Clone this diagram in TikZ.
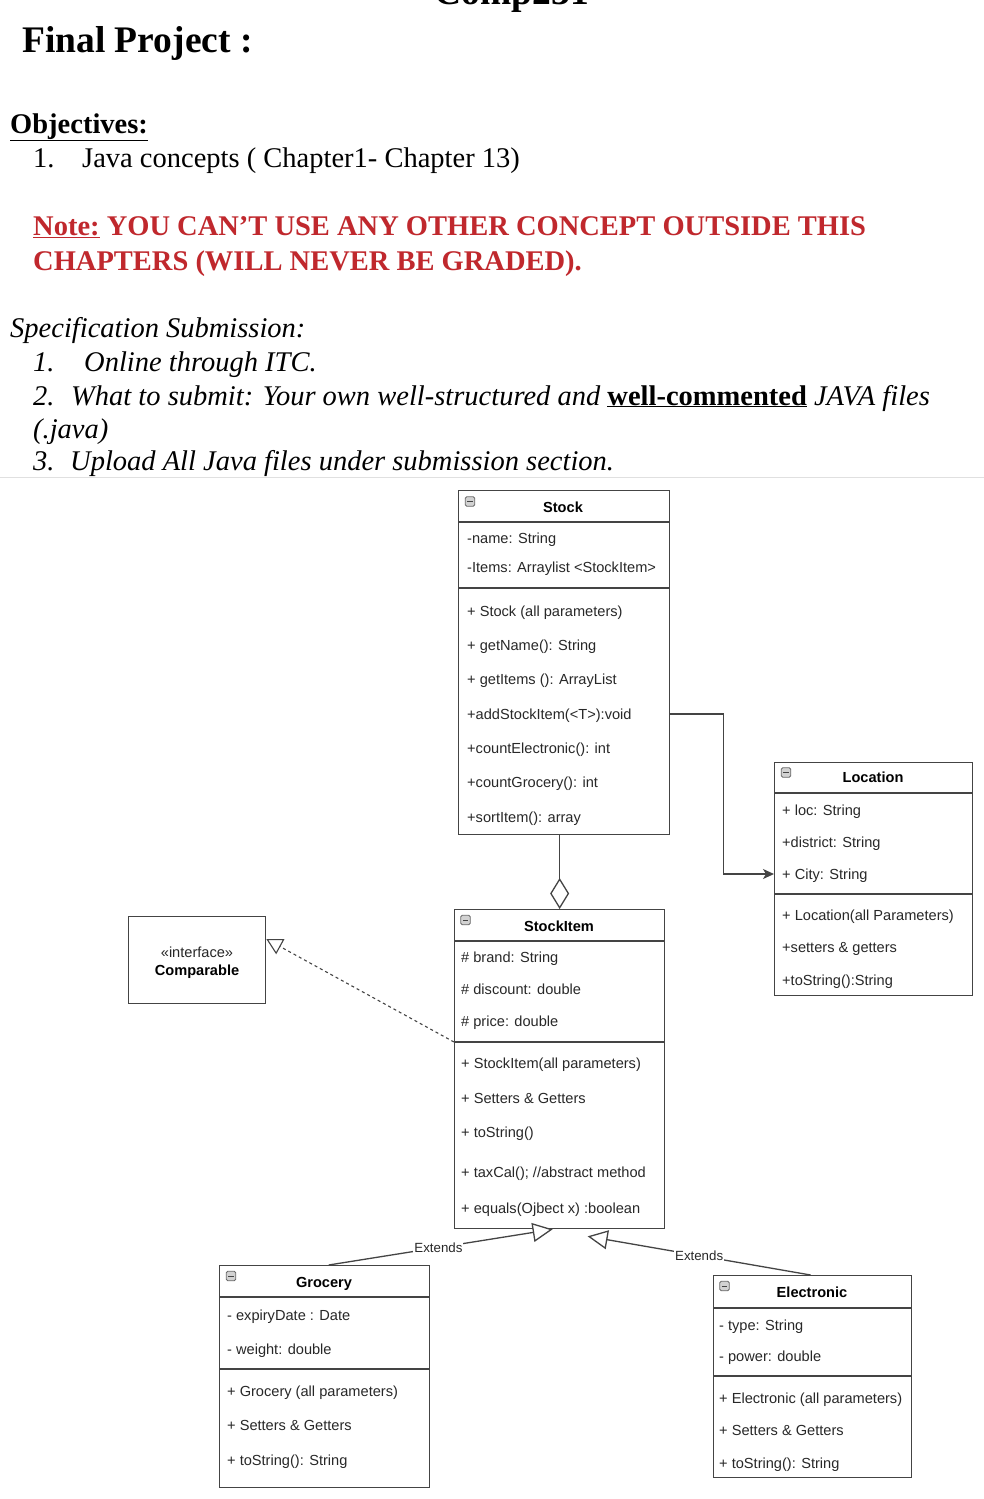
\documentclass[tikz,border=0pt]{standalone}
\usepackage{fontspec}
\setmainfont{Liberation Serif}
\setsansfont{Liberation Sans}
\usetikzlibrary{arrows.meta}
\definecolor{notered}{RGB}{192,40,45}
\definecolor{lc}{RGB}{68,68,68}
\definecolor{tc}{RGB}{40,40,40}
\begin{document}
\begin{tikzpicture}[x=1pt,y=-1pt,
  ttl/.style={inner sep=0, font=\bfseries\fontsize{37.5}{40}\selectfont},
  body/.style={anchor=base west, inner sep=0, font=\fontsize{28.5}{32}\selectfont},
  cbox/.style={draw=lc, line width=1.3pt, fill=white, inner sep=0, anchor=north west},
  sep/.style={draw=lc, line width=1.3pt},
  mem/.style={anchor=west, inner sep=0, text height=10.5pt, text depth=0pt, text=tc,
              font=\sffamily\fontsize{14.6}{16}\selectfont},
  hdr/.style={anchor=center, inner sep=0, text height=10.5pt, text depth=0pt, text=black,
              font=\sffamily\bfseries\fontsize{14.6}{16}\selectfont},
  icon/.style={draw=lc!80, fill=gray!35, rounded corners=1.5pt, line width=0.8pt,
               minimum size=9.5pt, inner sep=0,
               path picture={\draw[lc, line width=1pt]
                 ([xshift=2.2pt]path picture bounding box.west) --
                 ([xshift=-2.2pt]path picture bounding box.east);}},
  lbl/.style={fill=white, inner sep=1pt, text=tc, font=\sffamily\fontsize{13.3}{15}\selectfont},
  ext/.style={draw=lc, line width=1.3pt, -{Triangle[open, fill=white, length=20pt, width=19pt]}},
  realz/.style={draw=lc, line width=1.1pt, dash pattern=on 3pt off 3pt,
                -{Triangle[open, fill=white, length=16pt, width=17pt]}},
  aggr/.style={draw=lc, line width=1.3pt, -{Diamond[open, fill=white, length=31pt, width=19pt]}},
  navi/.style={draw=lc, line width=1.3pt, -{Stealth[length=11pt, width=10pt, inset=3pt]}}
]
\useasboundingbox (0,0) rectangle (984,1499);
\fill[white] (0,0) rectangle (984,1499);

% ---------------- header text ----------------
\node[ttl, anchor=base] (comp) at (512,5) {Comp231};
\node[ttl, anchor=base west] (fp) at (22,52) {Final Project :};
\node[body, font=\bfseries\fontsize{28.5}{32}\selectfont] (obj) at (10,133) {\underline{Objectives:}};
\node[body] (o1n) at (33,167) {1.};
\node[body] (o1) at (82,167) {Java concepts ( Chapter1- Chapter 13)};
\node[body, text=notered, font=\bfseries\fontsize{28.5}{32}\selectfont] (note1) at (33,235)
  {\underline{Note:} YOU CAN'T USE ANY OTHER CONCEPT OUTSIDE THIS};
\node[body, text=notered, font=\bfseries\fontsize{28.5}{32}\selectfont] (note2) at (33,270)
  {CHAPTERS (WILL NEVER BE GRADED).};
\node[body, font=\itshape\fontsize{28.5}{32}\selectfont] (spec) at (10,337) {Specification Submission:};
\node[body, font=\itshape\fontsize{28.5}{32}\selectfont] (s1n) at (33,371) {1.};
\node[body, font=\itshape\fontsize{28.5}{32}\selectfont] (s1) at (84,371) {Online through ITC.};
\node[body, font=\itshape\fontsize{28.5}{32}\selectfont] (s2n) at (33,405) {2.};
\node[body, font=\itshape\fontsize{28.5}{32}\selectfont] (s2) at (71,405)
  {What to submit: Your own well-structured and \underline{\upshape\bfseries well-commented} JAVA files};
\node[body, font=\itshape\fontsize{28.5}{32}\selectfont] (s2b) at (33,438) {(.java)};
\node[body, font=\itshape\fontsize{28.5}{32}\selectfont] (s3n) at (33,470) {3.};
\node[body, font=\itshape\fontsize{28.5}{32}\selectfont] (s3) at (70,470) {Upload All Java files under submission section.};
\draw[black!12, line width=1pt] (0,477) -- (984,477);

% ---------------- Stock ----------------
\node[cbox, minimum width=211pt, minimum height=344pt] (stock) at (458,490) {};
\draw[sep] (458,522) -- (669,522);
\draw[sep] (458,588) -- (669,588);
\node[icon] (stock-ic) at (470,501.5) {};
\node[hdr] (stock-t) at (563,507) {Stock};
\node[mem] (stock-a1) at (467,538) {-name: String};
\node[mem] (stock-a2) at (467,567) {-Items: Arraylist <StockItem>};
\node[mem] (stock-m1) at (467,611) {+ Stock (all parameters)};
\node[mem] (stock-m2) at (467,645) {+ getName(): String};
\node[mem] (stock-m3) at (467,679) {+ getItems (): ArrayList};
\node[mem] (stock-m4) at (467,714) {+addStockItem(<T>):void};
\node[mem] (stock-m5) at (467,748) {+countElectronic(): int};
\node[mem] (stock-m6) at (467,782) {+countGrocery(): int};
\node[mem] (stock-m7) at (467,817) {+sortItem(): array};

% ---------------- Location ----------------
\node[cbox, minimum width=198pt, minimum height=233pt] (loc) at (774,762) {};
\draw[sep] (774,793) -- (972,793);
\draw[sep] (774,894) -- (972,894);
\node[icon] (loc-ic) at (786,772.5) {};
\node[hdr] (loc-t) at (873,777) {Location};
\node[mem] (loc-a1) at (782,810) {+ loc: String};
\node[mem] (loc-a2) at (782,842) {+district: String};
\node[mem] (loc-a3) at (782,874) {+ City: String};
\node[mem] (loc-m1) at (782,915) {+ Location(all Parameters)};
\node[mem] (loc-m2) at (782,947) {+setters \& getters};
\node[mem] (loc-m3) at (782,980) {+toString():String};

% ---------------- StockItem ----------------
\node[cbox, minimum width=210pt, minimum height=319pt] (item) at (454,909) {};
\draw[sep] (454,941) -- (664,941);
\draw[sep] (454,1042) -- (664,1042);
\node[icon] (item-ic) at (465.5,920) {};
\node[hdr] (item-t) at (559,926) {StockItem};
\node[mem] (item-a1) at (461,957) {\# brand: String};
\node[mem] (item-a2) at (461,989) {\# discount: double};
\node[mem] (item-a3) at (461,1021) {\# price: double};
\node[mem] (item-m1) at (461,1063) {+ StockItem(all parameters)};
\node[mem] (item-m2) at (461,1098) {+ Setters \& Getters};
\node[mem] (item-m3) at (461,1132) {+ toString()};
\node[mem] (item-m4) at (461,1172) {+ taxCal(); //abstract method};
\node[mem] (item-m5) at (461,1208) {+ equals(Ojbect x) :boolean};
\coordinate (item-sep) at (454,1042);

% ---------------- Comparable ----------------
\node[cbox, minimum width=137pt, minimum height=87pt] (cmp) at (128,916) {};
\node[mem, anchor=center] (cmp-s) at (197,952) {«interface»};
\node[hdr] (cmp-t) at (197,970) {Comparable};

% ---------------- Grocery ----------------
\node[cbox, minimum width=210pt, minimum height=222pt] (groc) at (219,1265) {};
\draw[sep] (219,1297) -- (429,1297);
\draw[sep] (219,1369) -- (429,1369);
\node[icon] (groc-ic) at (231,1276) {};
\node[hdr] (groc-t) at (324,1282) {Grocery};
\node[mem] (groc-a1) at (227,1315) {- expiryDate : Date};
\node[mem] (groc-a2) at (227,1349) {- weight: double};
\node[mem] (groc-m1) at (227,1391) {+ Grocery (all parameters)};
\node[mem] (groc-m2) at (227,1425) {+ Setters \& Getters};
\node[mem] (groc-m3) at (227,1460) {+ toString(): String};

% ---------------- Electronic ----------------
\node[cbox, minimum width=198pt, minimum height=202pt] (elec) at (713,1275) {};
\draw[sep] (713,1308) -- (911,1308);
\draw[sep] (713,1376) -- (911,1376);
\node[icon] (elec-ic) at (724.5,1286) {};
\node[hdr] (elec-t) at (812,1292) {Electronic};
\node[mem] (elec-a1) at (719,1325) {- type: String};
\node[mem] (elec-a2) at (719,1356) {- power: double};
\node[mem] (elec-m1) at (719,1398) {+ Electronic (all parameters)};
\node[mem] (elec-m2) at (719,1430) {+ Setters \& Getters};
\node[mem] (elec-m3) at (719,1463) {+ toString(): String};

% ---------------- connectors ----------------
\draw[navi] (stock.east |- stock-m4) -- ++(53,0) |- (loc.west |- loc-a3);
\draw[aggr] (stock.south -| item.north) -- (item.north);
\draw[realz] (item-sep) -- ([yshift=-23pt]cmp.north east);
\draw[ext] ([xshift=4pt]groc.north) -- node[lbl, pos=0.49] (ext1) {Extends} ([xshift=-7pt]item.south);
\draw[ext] ([xshift=-2pt]elec.north) -- node[lbl, pos=0.5] (ext2) {Extends} ([xshift=28pt,yshift=-7pt]item.south);
\end{tikzpicture}
\end{document}
